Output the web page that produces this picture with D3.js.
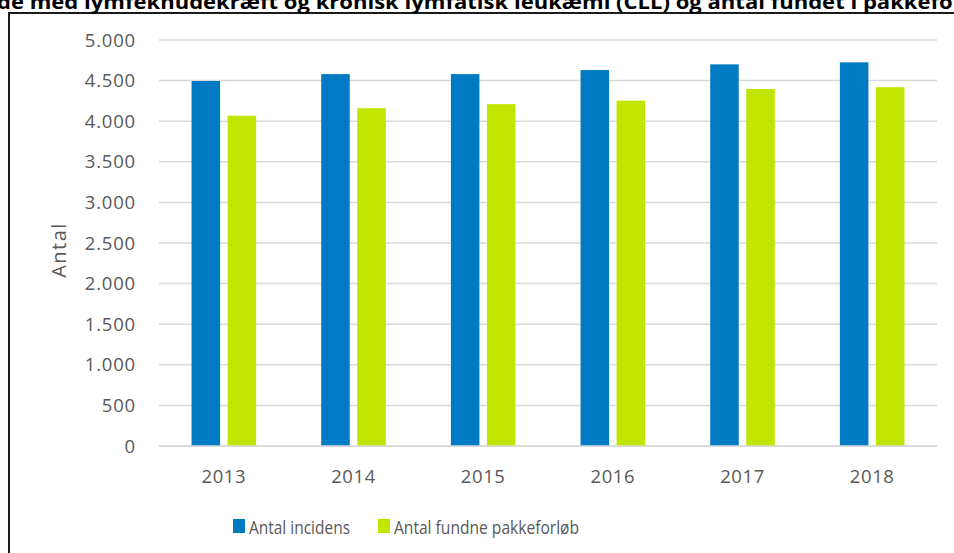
<!DOCTYPE html>
<html>
<head>
<meta charset="utf-8">
<script src="https://cdn.jsdelivr.net/npm/d3@7"></script>
<style>
  body { margin: 0; background: #fff; }
  svg { display: block; font-family: "Open Sans", sans-serif; }
</style>
</head>
<body>
<div id="chart"></div>
<script>
// Data
const years = ["2013", "2014", "2015", "2016", "2017", "2018"];
const seriesNames = ["Antal incidens", "Antal fundne pakkeforløb"];
const incidens = [4495, 4580, 4580, 4630, 4700, 4725];
const pakkeforloeb = [4068, 4160, 4210, 4253, 4397, 4418];
const yTicks = [0, 500, 1000, 1500, 2000, 2500, 3000, 3500, 4000, 4500, 5000];
const colors = ["#007AC3", "#C2E500"];

const width = 954, height = 553;
const margin = { top: 40, right: 17, bottom: 107, left: 159 };

const svg = d3.select("#chart").append("svg")
  .attr("width", width)
  .attr("height", height);

// Outer frame (runs past the right/bottom edge in the source image)
svg.append("rect")
  .attr("x", 9).attr("y", 13)
  .attr("width", 1000).attr("height", 600)
  .attr("fill", "none")
  .attr("stroke", "#1a1a1a")
  .attr("stroke-width", 2);

// Title, clipped at the edges like the original
svg.append("text")
  .attr("x", -3)
  .attr("y", 9)
  .attr("textLength", 1000)
  .attr("lengthAdjust", "spacingAndGlyphs")
  .style("font-weight", "bold")
  .style("font-size", "20px")
  .style("fill", "#000")
  .text("de med lymfeknudekræft og kronisk lymfatisk leukæmi (CLL) og antal fundet i pakkeforløb");

const x0 = d3.scaleBand()
  .domain(years)
  .range([margin.left, width - margin.right])
  .padding(0);

const y = d3.scaleLinear()
  .domain([0, 5000])
  .range([height - margin.bottom, margin.top]);

// Gridlines
svg.append("g")
  .selectAll("line")
  .data(yTicks)
  .join("line")
  .attr("x1", margin.left)
  .attr("x2", width - margin.right)
  .attr("y1", d => y(d))
  .attr("y2", d => y(d))
  .attr("stroke", "#d9d9d9")
  .attr("stroke-width", 1.5);

// Y axis labels
const fmt = d => d3.format(",")(d).replace(/,/g, ".");
svg.append("g")
  .selectAll("text")
  .data(yTicks)
  .join("text")
  .attr("x", 136)
  .attr("y", d => y(d))
  .attr("dy", "0.36em")
  .attr("text-anchor", "end")
  .style("font-size", "18.5px")
  .style("letter-spacing", "0.8px")
  .style("fill", "#595959")
  .text(fmt);

// Bars
const bw = x0.bandwidth();
const barW = bw * 0.22;
const gap = bw * 0.058;
const x1 = d3.scaleOrdinal()
  .domain([0, 1])
  .range([bw / 2 - gap / 2 - barW, bw / 2 + gap / 2]);

const series = [incidens, pakkeforloeb];
series.forEach((vals, i) => {
  svg.append("g")
    .selectAll("rect")
    .data(vals)
    .join("rect")
    .attr("x", (d, j) => x0(years[j]) + x1(i))
    .attr("y", d => y(d))
    .attr("width", barW)
    .attr("height", d => y(0) - y(d))
    .attr("fill", colors[i]);
});

// Baseline
svg.append("line")
  .attr("x1", margin.left)
  .attr("x2", width - margin.right)
  .attr("y1", y(0)).attr("y2", y(0))
  .attr("stroke", "#d9d9d9")
  .attr("stroke-width", 1.5);

// X labels
svg.append("g")
  .selectAll("text")
  .data(years)
  .join("text")
  .attr("x", d => x0(d) + bw / 2)
  .attr("y", 483)
  .attr("text-anchor", "middle")
  .style("font-size", "18.5px")
  .style("letter-spacing", "0.6px")
  .style("fill", "#595959")
  .text(d => d);

// Y axis title
svg.append("text")
  .attr("transform", "translate(66,250) rotate(-90)")
  .attr("text-anchor", "middle")
  .style("font-size", "20px")
  .style("letter-spacing", "1.5px")
  .style("fill", "#595959")
  .text("Antal");

// Legend
const legendX = [233, 378];
const legendW = [101, 185];
const legend = svg.append("g");
seriesNames.forEach((name, i) => {
  legend.append("rect")
    .attr("x", legendX[i])
    .attr("y", 519)
    .attr("width", 12)
    .attr("height", 14)
    .attr("fill", colors[i]);
  legend.append("text")
    .attr("x", legendX[i] + 16)
    .attr("y", 534)
    .attr("textLength", legendW[i])
    .attr("lengthAdjust", "spacingAndGlyphs")
    .style("font-size", "18.5px")
    .style("fill", "#595959")
    .text(name);
});
</script>
</body>
</html>
